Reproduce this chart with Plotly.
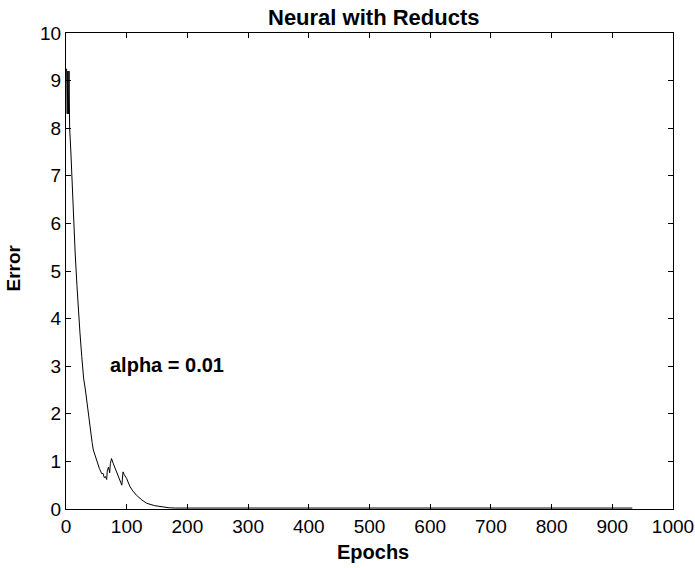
import plotly.graph_objects as go

epochs = [1, 2, 3, 4, 5, 6, 8, 10, 11, 13, 15, 18, 20, 23, 26, 29, 32, 34, 37, 40, 43, 45, 48, 51, 55, 59, 61, 63, 65, 67, 68, 70, 72, 73, 75, 78, 81, 84, 88, 92, 94, 96, 100, 105, 110, 116, 125, 133, 146, 158, 170, 180, 200, 300, 400, 500, 600, 700, 800, 900, 933]
error = [9.25, 8.3, 9.2, 8.3, 9.2, 8.0, 7.5, 6.8, 6.5, 6.05, 5.4, 4.7, 4.25, 3.7, 3.2, 2.75, 2.5, 2.3, 1.9, 1.65, 1.4, 1.24, 1.12, 1.02, 0.85, 0.74, 0.75, 0.66, 0.68, 0.62, 0.8, 0.88, 0.76, 0.95, 1.06, 0.95, 0.85, 0.75, 0.62, 0.5, 0.78, 0.72, 0.64, 0.48, 0.38, 0.29, 0.19, 0.12, 0.07, 0.04, 0.025, 0.02, 0.02, 0.02, 0.02, 0.02, 0.02, 0.02, 0.02, 0.02, 0.02]

x_ticks = list(range(0, 1001, 100))
y_ticks = list(range(0, 11))

font = "Liberation Sans, Arial, Helvetica, sans-serif"

fig = go.Figure()
fig.add_trace(go.Scatter(x=epochs, y=error, mode="lines",
                         line=dict(color="black", width=1), showlegend=False))

fig.add_annotation(x=70, y=3.03, xanchor="left", yanchor="middle",
                   text="<b>alpha = 0.01</b>", showarrow=False,
                   font=dict(family=font, size=20, color="black"))

# axis titles and chart title
fig.add_annotation(x=0.506, y=0, xref="paper", yref="paper", xanchor="center", yanchor="middle",
                   yshift=-43, text="<b>Epochs</b>", showarrow=False,
                   font=dict(family=font, size=20, color="black"))
fig.add_annotation(x=0, y=0.5, xref="paper", yref="paper", xanchor="center", yanchor="middle",
                   xshift=-53.5, yshift=3, textangle=-90, text="<b>Error</b>", showarrow=False,
                   font=dict(family=font, size=19, color="black"))
fig.add_annotation(x=0.506, y=1, xref="paper", yref="paper", xanchor="center", yanchor="middle",
                   yshift=16, text="<b>Neural with Reducts</b>", showarrow=False,
                   font=dict(family=font, size=22, color="black"))

axis_common = dict(showgrid=False, zeroline=False, showline=True, linecolor="black",
                   linewidth=1, mirror="ticks", ticks="inside", ticklen=5,
                   tickcolor="black", automargin=False,
                   tickfont=dict(family=font, size=19, color="black"))

fig.update_xaxes(range=[0, 1000], tickvals=x_ticks, ticktext=[str(t) for t in x_ticks],
                 **axis_common)
fig.update_yaxes(range=[0, 10], tickvals=y_ticks, ticktext=[str(t) for t in y_ticks],
                 **axis_common)

fig.update_layout(
    width=695, height=568,
    margin=dict(l=66, r=22, t=33, b=59, autoexpand=False),
    plot_bgcolor="white", paper_bgcolor="white",
)

fig.write_html("out.html", config={"displayModeBar": False},
               post_script="document.body.style.margin='0';document.body.style.overflow='hidden';")
